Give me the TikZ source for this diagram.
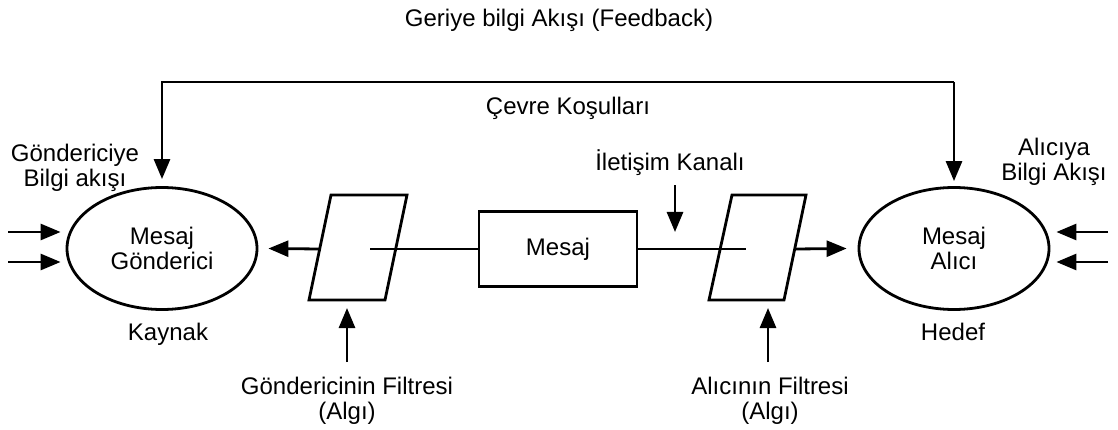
\documentclass[tikz,border=0pt]{standalone}
\usepackage{fontspec}
\setmainfont{Liberation Sans}
\usetikzlibrary{arrows.meta,shapes.geometric}
\begin{document}
\begin{tikzpicture}[x=1pt,y=-1pt,
  line width=2.8pt,
  arr/.style={-{Triangle[length=20pt,width=16pt]}},
  lbl/.style={font=\fontsize{24}{25}\selectfont, align=center, inner sep=0pt},
  ell/.style={draw, ellipse, minimum width=190pt, minimum height=122pt, inner sep=0pt,
              font=\fontsize{24}{25}\selectfont, align=center},
  msgbox/.style={draw, rectangle, minimum width=158pt, minimum height=75pt, inner sep=0pt,
              font=\fontsize{24}{25}\selectfont},
]
\useasboundingbox (0,0) rectangle (1118,430);

% main nodes
\node[ell] (src) at (162,248.5) {Mesaj\\Gönderici};
\node[ell] (dst) at (954,248.5) {Mesaj\\Alıcı};
\node[msgbox] (msg) at (558,249) {Mesaj};

% filters (parallelograms)
\draw (309,300) -- (331,195) -- (407,195) -- (385,300) -- cycle;
\draw (709,300) -- (732,195) -- (806,195) -- (784,300) -- cycle;
\coordinate (sfL) at (319.7,249);
\coordinate (sfIn) at (370,249);
\coordinate (sfB) at (347,308);
\coordinate (rfIn) at (746,249);
\coordinate (rfR) at (794.8,249);
\coordinate (rfB) at (768,308);

% labels
\node[lbl, anchor=base] (fb) at (559,26.5) {Geriye bilgi Akışı (Feedback)};
\node[lbl, anchor=base] (env) at (568,115) {Çevre Koşulları};
\node[lbl] (sinfo) at (75,168) {Göndericiye\\Bilgi akışı};
\node[lbl] (rinfo) at (1054,162) {Alıcıya\\Bilgi Akışı};
\node[lbl, anchor=base] (kay) at (168,340) {Kaynak};
\node[lbl, anchor=base] (hed) at (953,340) {Hedef};
\node[lbl, anchor=base] (chan) at (670,171) {İletişim Kanalı};
\node[lbl] (sfl) at (347,401) {Göndericinin Filtresi\\(Algı)};
\node[lbl] (rfl) at (770,401) {Alıcının Filtresi\\(Algı)};

% message channel
\draw (msg.west) -- (sfIn);
\draw (msg.east) -- (rfIn);
\draw[arr] (sfL) -- ([xshift=10pt]src.east);
\draw[arr] (rfR) -- ([xshift=-11pt]dst.west);

% channel pointer
\coordinate (chanP) at (675,249);
\draw[arr, shorten <=8pt, shorten >=17pt] (chan.south -| chanP) -- (chanP);

% feedback loop
\coordinate (top) at (0,82);
\draw[arr] (dst.north |- top) -- (src.north |- top) -- ([yshift=7pt]src.north);
\draw[arr] (dst.north |- top) -- ([yshift=5pt]dst.north);

% filter pointers
\coordinate (sfS) at (347,362);
\coordinate (rfS) at (768,362);
\draw[arr] (sfS) -- (sfB);
\draw[arr] (rfS) -- (rfB);

% incoming information
\coordinate (inL1) at (8,232);
\coordinate (inL2) at (8,262);
\coordinate (inR1) at (1108,232);
\coordinate (inR2) at (1108,262);
\draw[arr, shorten >=5pt] (inL1) -- (src.west |- inL1);
\draw[arr, shorten >=5pt] (inL2) -- (src.west |- inL2);
\draw[arr, shorten >=6pt] (inR1) -- (dst.east |- inR1);
\draw[arr, shorten >=6pt] (inR2) -- (dst.east |- inR2);
\end{tikzpicture}
\end{document}
